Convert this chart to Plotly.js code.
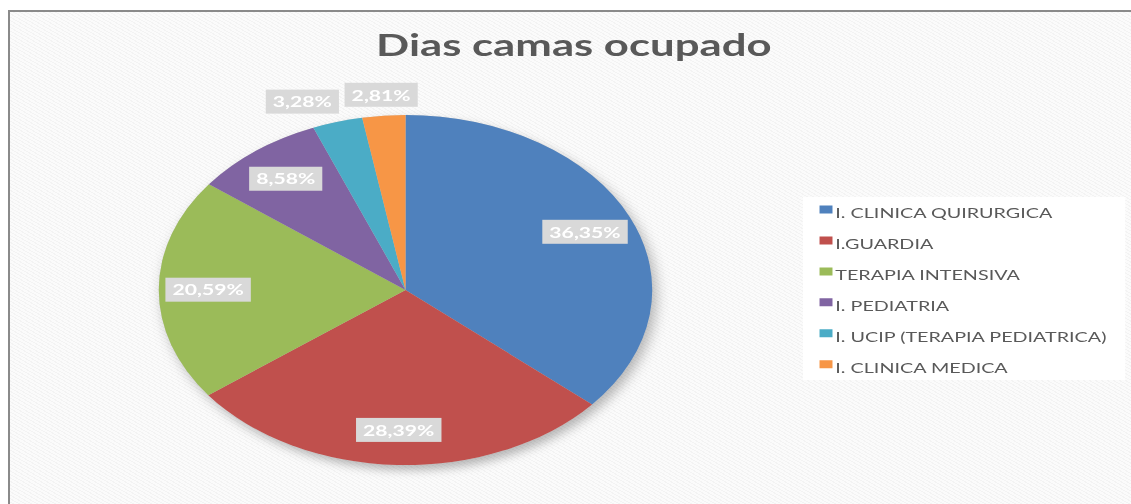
<!DOCTYPE html>
<html>
<head>
<meta charset="utf-8">
<script src="https://cdn.plot.ly/plotly-3.0.1.min.js"></script>
<style>
  html, body { margin:0; padding:0; background:#ffffff; width:1131px; height:504px; overflow:hidden; }
  #frame {
    position:absolute; left:8px; top:10px; width:1123px; height:494px;
    border-left:2px solid #8a8a8a; border-top:2px solid #8a8a8a;
    background: repeating-linear-gradient(30deg, #f3f3f3 0px, #f3f3f3 1px, #fbfbfb 1px, #fbfbfb 3px);
    overflow:hidden;
  }
  #chart {
    position:absolute; left:-10px; top:-12px; width:900px; height:504px;
    transform: scaleX(1.41); transform-origin: 0 0;
  }
  #chart .textline { display:none; }
</style>
</head>
<body>
<div id="frame"><div id="chart"></div></div>
<script>
// ---- data ----
const categories = [
  "I. CLINICA QUIRURGICA",
  "I.GUARDIA",
  "TERAPIA INTENSIVA",
  "I. PEDIATRIA",
  "I. UCIP (TERAPIA PEDIATRICA)",
  "I. CLINICA MEDICA"
];
const values = [36.35, 28.39, 20.59, 8.58, 3.28, 2.81];
const colors = ["#4f81bd", "#c0504d", "#9bbb59", "#8064a2", "#4bacc6", "#f79646"];
const textPositions = ["inside", "inside", "inside", "inside", "outside", "outside"];
const chartTitle = "Dias camas ocupado";

const legendLabels = categories.map(c => '<span style="font-size:14px">' + c + '</span>');

const data = [{
  type: "pie",
  labels: legendLabels,
  values: values,
  sort: false,
  direction: "clockwise",
  rotation: 0,
  marker: { colors: colors, line: { width: 0 } },
  texttemplate: "%{percent:.2%}",
  textposition: textPositions,
  insidetextorientation: "horizontal",
  textfont: { family: "Lato, 'Open Sans', sans-serif", size: 15, color: "#ffffff", weight: "bold" },
  outsidetextfont: { family: "Lato, 'Open Sans', sans-serif", size: 15, color: "#ffffff", weight: "bold" },
  hoverinfo: "none",
  domain: { x: [0.1251, 0.5140], y: [0.0774, 0.7718] }
}];

const layout = {
  width: 900, height: 504,
  margin: { l: 0, r: 0, t: 0, b: 0 },
  paper_bgcolor: "rgba(0,0,0,0)",
  plot_bgcolor: "rgba(0,0,0,0)",
  separators: ",.",
  title: {
    text: chartTitle,
    x: 0.4522, xanchor: "center",
    y: 0.911, yanchor: "middle",
    font: { family: "Lato, 'Open Sans', sans-serif", size: 31, color: "#595959", weight: "bold" }
  },
  showlegend: true,
  legend: {
    x: 0.6138, xanchor: "left",
    y: 0.625, yanchor: "top",
    bgcolor: "rgba(0,0,0,0)",
    font: { family: "Lato, 'Open Sans', sans-serif", size: 21.5, color: "#595959" },
    itemwidth: 30
  },
  shapes: [{
    type: "rect", xref: "paper", yref: "paper",
    x0: 0.6328, x1: 0.8867, y0: 1 - 380/504, y1: 1 - 197/504,
    fillcolor: "#ffffff", line: { width: 0 }, layer: "below"
  }]
};

const gd = document.getElementById("chart");
Plotly.newPlot(gd, data, layout, { displayModeBar: false, staticPlot: true }).then(() => {
  const ns = "http://www.w3.org/2000/svg";
  const trace = gd.querySelector(".pielayer g.trace");
  if (!trace) return;
  const surfaces = Array.from(trace.querySelectorAll("path.surface"));

  // pie centre and radius, read back from Plotly's own slice paths
  let cx = 0, cy = 0, R = 0;
  const m = /M\s*([-\d.e]+)[ ,]([-\d.e]+)/.exec(surfaces[0].getAttribute("d"));
  if (m) { cx = +m[1]; cy = +m[2]; }
  const cd0 = gd.calcdata && gd.calcdata[0] && gd.calcdata[0][0];
  if (cd0 && cd0.r) R = cd0.r;
  if (cd0 && typeof cd0.cx === "number") { cx = cd0.cx; cy = cd0.cy; }

  // shadow under the pie, cloned from the slice paths
  const sh = document.createElementNS(ns, "g");
  sh.setAttribute("style", "filter: drop-shadow(3px 5px 5px rgba(0,0,0,0.28))");
  surfaces.forEach(p => {
    const c = document.createElementNS(ns, "path");
    c.setAttribute("d", p.getAttribute("d"));
    c.setAttribute("fill", "#cccccc");
    sh.appendChild(c);
  });
  trace.insertBefore(sh, trace.firstChild);

  // grey boxes behind the data labels, labels placed radially like the original (best fit)
  const boxes = [];
  gd.querySelectorAll("g.slicetext").forEach((g, i) => {
    const t = g.querySelector("text");
    if (!t) return;
    const bb = t.getBBox();
    const r = document.createElementNS(ns, "rect");
    r.setAttribute("x", bb.x - 5);
    r.setAttribute("y", bb.y - 3);
    r.setAttribute("width", bb.width + 10);
    r.setAttribute("height", bb.height + 6);
    r.setAttribute("fill", "#d9d9d9");
    const tr = t.getAttribute("transform");
    if (tr) r.setAttribute("transform", tr);
    g.insertBefore(r, t);

    // current centre of the label
    const mtx = t.transform.baseVal.consolidate();
    let px = bb.x + bb.width / 2, py = bb.y + bb.height / 2;
    let sx = 1;
    if (mtx) {
      const M = mtx.matrix;
      sx = M.a;
      const nx = M.a * px + M.c * py + M.e, ny = M.b * px + M.d * py + M.f;
      px = nx; py = ny;
    }
    const pt = cd0 ? gd.calcdata[0].find(d => d.i === i) || gd.calcdata[0][i] : null;
    let ux, uy;
    if (pt && pt.pxmid) {
      const L = Math.hypot(pt.pxmid[0], pt.pxmid[1]);
      ux = pt.pxmid[0] / L; uy = pt.pxmid[1] / L;
    } else {
      const L = Math.hypot(px - cx, py - cy);
      ux = (px - cx) / L; uy = (py - cy) / L;
    }
    const inside = textPositions[i] === "inside";
    const frac = inside ? 0.8 : 1.12;
    const tx = cx + ux * frac * R, ty = cy + uy * frac * R;
    boxes.push({ g, i, tx, ty, px, py, w: (bb.width + 10) * sx, h: (bb.height + 6) * sx, inside });
  });
  // resolve overlaps of outside labels by pushing the leftmost one further left
  const outs = boxes.filter(b => !b.inside).sort((a, b) => b.tx - a.tx);
  for (let k = 1; k < outs.length; k++) {
    const a = outs[k - 1], b = outs[k];
    const overlapX = (b.tx + b.w / 2 + 4) - (a.tx - a.w / 2);
    const overlapY = Math.abs(a.ty - b.ty) < (a.h + b.h) / 2;
    if (overlapX > 0 && overlapY) b.tx -= overlapX;
  }
  boxes.forEach(b => {
    if (!R) return;
    b.g.setAttribute("transform", "translate(" + (b.tx - b.px) + "," + (b.ty - b.py) + ")");
  });

  // smaller legend squares, set just before the text
  gd.querySelectorAll(".legend .legendpoints path").forEach(p => {
    p.setAttribute("d", "M18,4H8.8V-4H18Z");
  });
});
</script>
</body>
</html>
